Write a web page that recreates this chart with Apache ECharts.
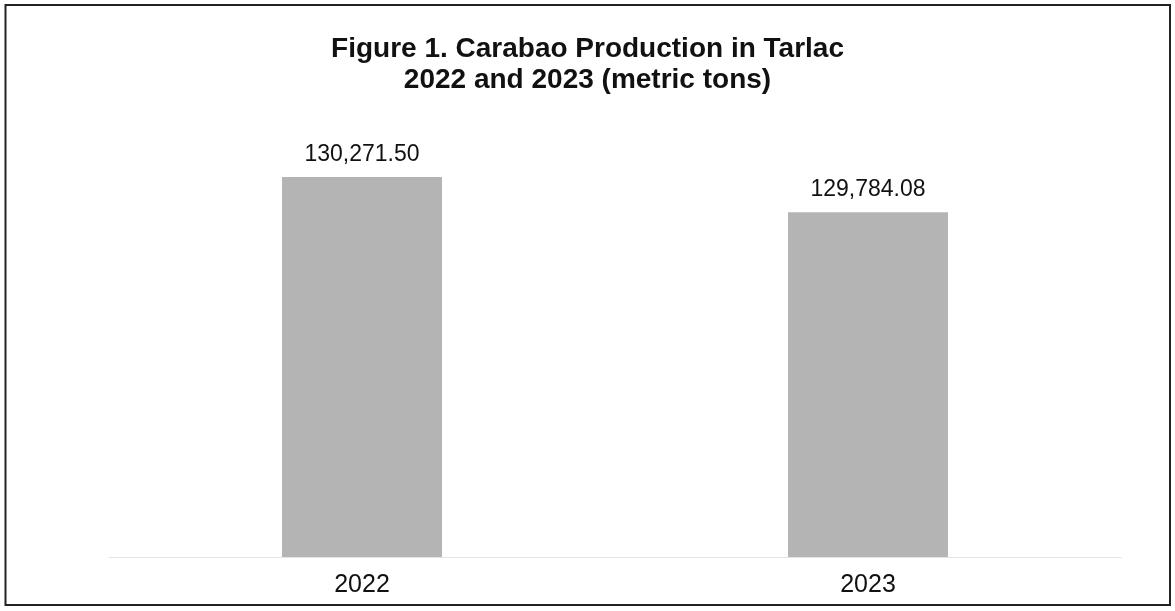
<!DOCTYPE html>
<html>
<head>
<meta charset="utf-8">
<script src="https://cdn.jsdelivr.net/npm/echarts@6/dist/echarts.min.js"></script>
<style>
html,body{margin:0;padding:0;background:#fff;}
#chart{width:1175px;height:611px;}
</style>
</head>
<body>
<div id="chart"></div>
<script>
var titleLines = ['Figure 1. Carabao Production in Tarlac', '2022 and 2023 (metric tons)'];
var categories = ['2022', '2023'];
var production = [130271.50, 129784.08];

var chart = echarts.init(document.getElementById('chart'), null, {renderer: 'canvas'});
chart.setOption({
  backgroundColor: '#ffffff',
  animation: false,
  title: {
    text: titleLines.join('\n'),
    left: 'center',
    top: 29,
    textStyle: {
      fontFamily: 'Liberation Sans, Arial, sans-serif',
      fontWeight: 'bold',
      fontSize: 28,
      lineHeight: 31,
      color: '#111'
    }
  },
  graphic: [{
    type: 'rect',
    shape: {x: 5.5, y: 5, width: 1164.5, height: 600},
    style: {fill: 'none', stroke: '#222', lineWidth: 2},
    silent: true
  }],
  grid: {left: 109, right: 54, top: 124.5, bottom: 54},
  xAxis: {
    type: 'category',
    data: categories,
    axisLine: {show: true, lineStyle: {color: '#e4e4e4', width: 1}},
    axisTick: {show: false},
    axisLabel: {
      margin: 16,
      fontFamily: 'Liberation Sans, Arial, sans-serif',
      fontSize: 25,
      color: '#111'
    }
  },
  yAxis: {
    type: 'value',
    min: 125000,
    max: 131000,
    interval: 1000,
    show: false,
    splitLine: {show: false}
  },
  series: [{
    type: 'bar',
    data: production,
    barWidth: 160,
    itemStyle: {color: '#b4b4b4'},
    label: {
      show: true,
      position: 'top',
      distance: 11,
      fontFamily: 'Liberation Sans, Arial, sans-serif',
      fontSize: 23,
      color: '#111',
      formatter: function (p) {
        return p.value.toLocaleString('en-US', {minimumFractionDigits: 2, maximumFractionDigits: 2});
      }
    }
  }]
});
</script>
</body>
</html>
